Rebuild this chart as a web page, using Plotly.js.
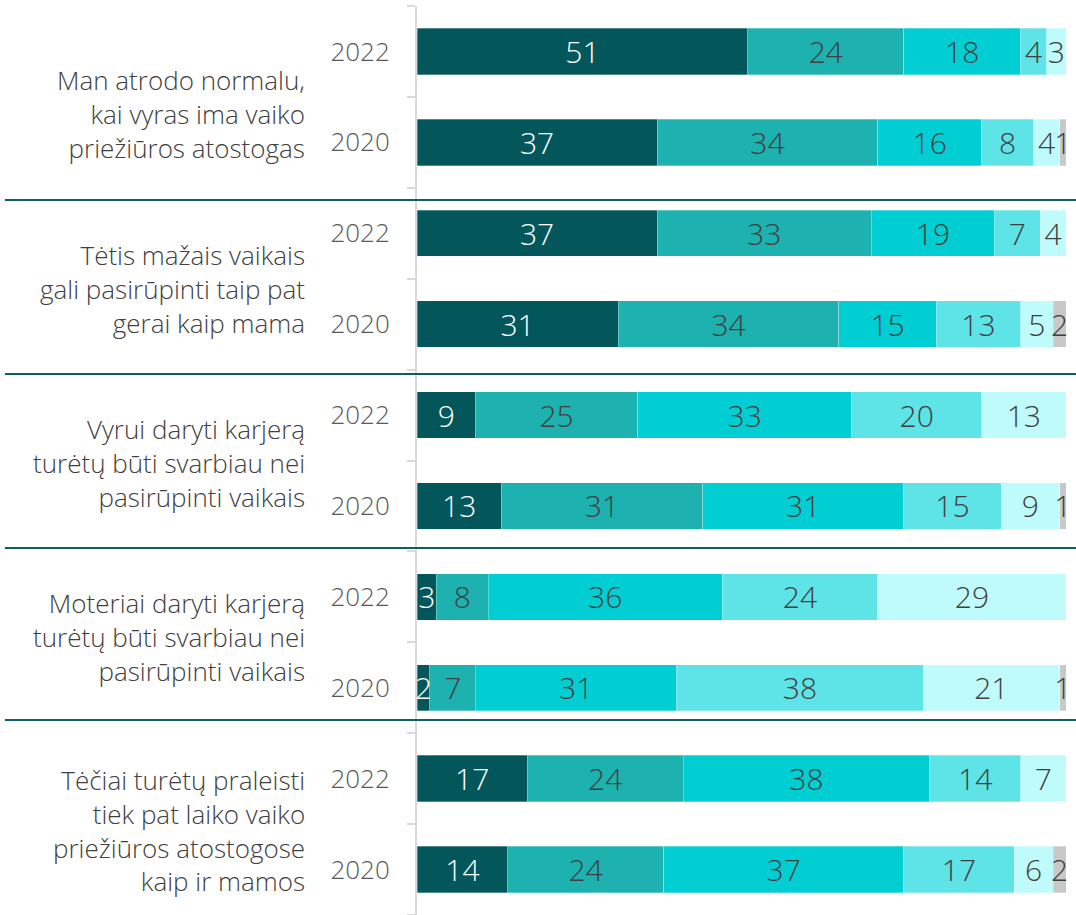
<!DOCTYPE html>
<html>
<head>
<meta charset="utf-8">
<script src="https://cdn.plot.ly/plotly-3.0.1.min.js"></script>
<style>html,body{margin:0;padding:0;background:#fff;}#chart{width:1076px;height:915px;}</style>
</head>
<body>
<div id="chart"></div>
<script>
const statements = [
  "Man atrodo normalu,<br>kai vyras ima vaiko<br>priežiūros atostogas",
  "Tėtis mažais vaikais<br>gali pasirūpinti taip pat<br>gerai kaip mama",
  "Vyrui daryti karjerą<br>turėtų būti svarbiau nei<br>pasirūpinti vaikais",
  "Moteriai daryti karjerą<br>turėtų būti svarbiau nei<br>pasirūpinti vaikais",
  "Tėčiai turėtų praleisti<br>tiek pat laiko vaiko<br>priežiūros atostogose<br>kaip ir mamos"
];
const years = ["2022", "2020"];
const seriesNames = ["Visiškai sutinku", "Sutinku", "Nei sutinku, nei nesutinku", "Nesutinku", "Visiškai nesutinku", "Nežino"];
const s1 = [51, 37, 37, 31, 9, 13, 3, 2, 17, 14];
const s2 = [24, 34, 33, 34, 25, 31, 8, 7, 24, 24];
const s3 = [18, 16, 19, 15, 33, 31, 36, 31, 38, 37];
const s4 = [4, 8, 7, 13, 20, 15, 24, 38, 14, 17];
const s5 = [3, 4, 4, 5, 13, 9, 29, 21, 7, 6];
const s6 = [0, 1, 0, 2, 0, 1, 0, 1, 0, 2];

const colors = ["#03565A", "#1DB1AF", "#00CED3", "#5EE3E6", "#C0FBFC", "#C8C8C8"];
const textColors = ["#FFFFFF", "#404040", "#404040", "#404040", "#404040", "#404040"];
const FONT = "'Open Sans', 'Segoe UI', sans-serif";

const rowIds = [];
const rowYears = [];
statements.forEach((s, i) => years.forEach(y => { rowIds.push("g" + i + "-" + y); rowYears.push(y); }));

const allSeries = [s1, s2, s3, s4, s5, s6];
const traces = allSeries.map((vals, k) => ({
  type: "bar",
  orientation: "h",
  name: seriesNames[k],
  y: rowIds,
  x: vals,
  text: vals.map(v => v > 0 ? String(v) : ""),
  texttemplate: "%{text}",
  textposition: "inside",
  insidetextanchor: "middle",
  textangle: 0,
  constraintext: "none",
  cliponaxis: false,
  insidetextfont: {family: FONT, size: 30, color: textColors[k], weight: 300},
  marker: {color: colors[k], line: {color: "rgba(255,255,255,0.6)", width: 0.5}},
  hoverinfo: "skip"
}));

const sepY = [0.7866, 0.5952, 0.4037, 0.2145];
const labelY = [0.881, 0.6887, 0.4972, 0.3058, 0.093];

const shapes = sepY.map(y => ({
  type: "line", xref: "paper", yref: "paper",
  x0: -0.635, x1: 1.02, y0: y, y1: y,
  line: {color: "#0E5E62", width: 2}
}));

const annotations = statements.map((s, i) => ({
  xref: "paper", yref: "paper",
  x: -0.17, y: labelY[i],
  xanchor: "right", yanchor: "middle", align: "right",
  text: s, showarrow: false,
  font: {family: FONT, size: 26, color: "#404040", weight: 300}
}));

const layout = {
  width: 1076, height: 915,
  margin: {l: 417, r: 10, t: 6, b: 0},
  barmode: "stack",
  bargap: 0.49,
  showlegend: false,
  paper_bgcolor: "#FFFFFF",
  plot_bgcolor: "#FFFFFF",
  font: {family: FONT},
  xaxis: {range: [0, 100], visible: false, fixedrange: true},
  yaxis: {
    type: "category",
    categoryorder: "array",
    categoryarray: rowIds,
    autorange: "reversed",
    tickvals: rowIds,
    ticktext: rowYears,
    tickson: "boundaries",
    ticks: "outside",
    ticklen: 8,
    tickwidth: 2,
    tickcolor: "#D9D9D9",
    showline: true,
    linecolor: "#D9D9D9",
    linewidth: 2,
    showgrid: false,
    zeroline: false,
    ticklabelstandoff: 20,
    tickfont: {family: FONT, size: 26, color: "#595959", weight: 300}
  },
  shapes: shapes,
  annotations: annotations
};

Plotly.newPlot("chart", traces, layout, {displayModeBar: false, staticPlot: true});
</script>
</body>
</html>
